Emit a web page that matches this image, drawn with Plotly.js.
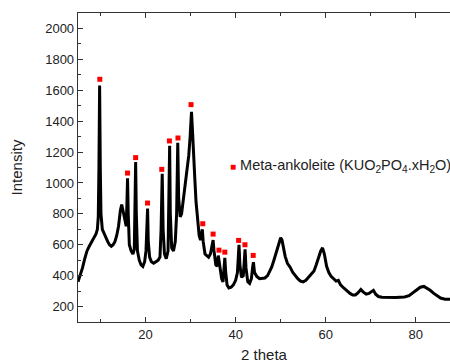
<!DOCTYPE html>
<html>
<head>
<meta charset="utf-8">
<script src="https://cdn.plot.ly/plotly-3.0.1.min.js"></script>
<style>
html,body{margin:0;padding:0;overflow:hidden;background:#fff;}
#chart{width:450px;height:363px;}
</style>
</head>
<body>
<div id="chart"></div>
<script>
// XRD pattern (2 theta, intensity)
const twoTheta = [5.0,5.5,6.0,6.5,7.0,7.5,8.0,8.5,9.0,9.3,9.5,9.65,9.8,9.95,10.1,10.4,10.8,11.2,11.6,12.0,12.4,12.8,13.2,13.6,14.0,14.4,14.7,15.0,15.4,15.7,15.85,16.0,16.15,16.4,16.8,17.2,17.5,17.65,17.8,17.95,18.2,18.6,19.0,19.4,19.8,20.1,20.3,20.45,20.6,20.9,21.3,21.8,22.3,22.8,23.2,23.45,23.7,23.9,24.2,24.6,25.0,25.15,25.35,25.5,25.8,26.2,26.6,26.9,27.15,27.35,27.7,28.0,28.4,28.8,29.2,29.6,29.9,30.2,30.4,30.6,30.9,31.2,31.5,31.9,32.2,32.45,32.6,32.8,33.2,33.6,34.0,34.4,34.8,35.0,35.2,35.6,35.9,36.15,36.3,36.6,36.9,37.2,37.45,37.6,37.8,38.1,38.5,39.0,39.5,40.0,40.4,40.6,40.75,40.95,41.3,41.7,41.95,42.1,42.3,42.7,43.1,43.5,43.8,43.95,44.2,44.7,45.3,45.9,46.5,47.1,47.6,48.0,48.5,49.0,49.5,50.0,50.3,50.7,51.0,51.5,52.1,52.7,53.2,53.8,54.4,55.0,55.6,56.2,56.8,57.4,57.9,58.4,58.9,59.3,59.7,60.2,60.7,61.2,61.8,62.3,62.8,63.3,64.0,64.7,65.4,66.0,66.6,67.2,67.8,68.3,69.0,69.6,70.2,70.6,71.1,71.7,72.5,73.5,74.5,75.5,76.5,77.5,78.5,79.5,80.3,81.0,81.8,82.5,83.2,84.0,84.7,85.5,86.5,87.7];
const intensity = [360,400,450,510,560,590,620,650,670,700,780,1100,1630,1100,800,700,670,640,620,600,590,600,620,660,720,820,860,820,760,720,850,1030,800,600,560,540,570,800,1135,800,560,500,470,460,490,560,750,835,620,520,490,480,490,500,520,700,1060,700,540,510,560,800,1240,800,580,560,620,800,1260,900,780,800,890,980,1060,1180,1300,1460,1350,1200,1050,880,780,660,630,690,700,620,540,530,520,540,600,630,560,470,460,530,500,420,380,360,480,515,420,340,320,325,340,370,420,560,600,470,390,400,560,570,450,360,350,380,460,487,420,395,380,385,385,400,430,455,500,550,600,645,630,570,525,480,455,420,400,380,365,360,370,390,410,430,470,520,560,580,540,460,420,395,380,365,370,340,320,300,285,275,275,290,310,295,280,285,300,305,280,265,260,258,260,258,260,262,270,290,310,325,330,320,305,285,270,255,248,248];

// Meta-ankoleite reflection markers
const markerX = [9.84,16.0,17.8,20.44,23.6,25.3,27.2,30.1,32.7,35.0,36.3,37.6,40.67,42.07,43.9];
const markerY = [1671,1064,1164,870,1088,1272,1291,1507,736,669,565,552,628,600,531];

const legendName = 'Meta-ankoleite (KUO<sub>2</sub>PO<sub>4</sub>.xH<sub>2</sub>O)';

const xTitle = '2 theta';
const yTitle = 'Intensity';

const traces = [
  {
    x: twoTheta, y: intensity, type: 'scatter', mode: 'lines',
    line: {color: '#000000', width: 3},
    showlegend: false, hoverinfo: 'skip'
  },
  {
    x: markerX, y: markerY, type: 'scatter', mode: 'markers',
    marker: {symbol: 'square', color: '#ff0000', size: 5},
    name: legendName, showlegend: false
  }
];

const fam = 'Liberation Sans, Arial, sans-serif';
const axisFont = {family: fam, size: 13, color: '#222'};

const layout = {
  width: 450, height: 363,
  margin: {l: 78, r: 0, t: 13, b: 41},
  paper_bgcolor: '#ffffff', plot_bgcolor: '#ffffff',
  font: axisFont,
  xaxis: {
    range: [5, 87.6], tick0: 0, dtick: 20,
    ticks: 'inside', ticklen: 5, tickcolor: '#333', tickwidth: 1,
    minor: {dtick: 10, ticks: 'inside', ticklen: 3, tickcolor: '#333'},
    showline: true, linecolor: '#333', linewidth: 1.3, mirror: 'ticks',
    showgrid: false, zeroline: false,
    tickfont: axisFont,
    title: {text: xTitle, font: {family: fam, size: 15, color: '#222'}, standoff: 12}
  },
  yaxis: {
    range: [100, 2100], tick0: 0, dtick: 200,
    ticks: 'inside', ticklen: 5, tickcolor: '#333', tickwidth: 1,
    minor: {dtick: 100, ticks: 'inside', ticklen: 3, tickcolor: '#333'},
    showline: true, linecolor: '#333', linewidth: 1.3, mirror: false,
    showgrid: false, zeroline: false,
    tickfont: axisFont,
    title: {text: yTitle, font: {family: fam, size: 15, color: '#222'}, standoff: 19}
  },
  showlegend: false,
  annotations: [{
    xref: 'paper', yref: 'paper', x: 0.403, y: 0.505,
    xanchor: 'left', yanchor: 'middle', showarrow: false, align: 'left',
    text: '<span style="color:#ff0000;font-size:10px">■</span> ' + legendName,
    font: {family: fam, size: 14.5, color: '#222'}
  }]
};

Plotly.newPlot('chart', traces, layout, {displayModeBar: false, staticPlot: true});
</script>
</body>
</html>
